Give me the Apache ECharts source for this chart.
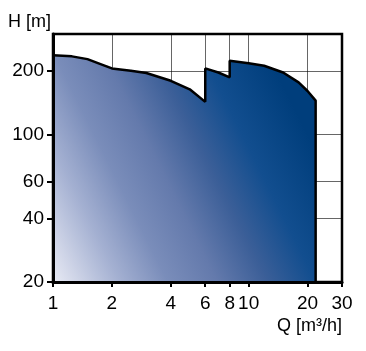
<!DOCTYPE html>
<html style="height: 100%">
<head>
  <meta charset="utf-8">
</head>
<body style="height: 100%; margin: 0">
  <div id="container" style="width: 366px; height: 351px"></div>
  <script src="https://cdn.jsdelivr.net/npm/echarts@6/dist/echarts.min.js"></script>
  <script>
    // pump curve Q [m3/h] vs H [m], log-log
    var flow = [1, 1.25, 1.5, 1.75, 2, 2.5, 3, 4, 5, 6, 6, 7, 8, 8, 10, 12, 15, 18, 20, 22, 22];
    var head = [238, 235, 228, 216, 206, 201, 196, 180, 164, 143, 206, 197, 187, 224, 218, 212, 197, 177, 161, 145, 20];
    var xTicks = [1, 2, 4, 6, 8, 10, 20, 30];
    var yTicks = [20, 40, 60, 100, 200];

    var font = '"Liberation Sans", Arial, sans-serif';
    var points = flow.map(function (q, i) { return [q, head[i]]; });

    var myChart = echarts.init(document.getElementById('container'));
    var option = {
      animation: false,
      grid: {
        left: 53, right: 24, top: 34, bottom: 69,
        show: true, borderColor: '#000', borderWidth: 2.5
      },
      xAxis: {
        type: 'log', logBase: 10, min: 1, max: 30, z: 3,
        name: 'Q [m³/h]', nameLocation: 'end', nameGap: 0, nameMoveOverlap: false,
        nameTextStyle: { fontFamily: font, fontSize: 18, color: '#000', align: 'right', verticalAlign: 'top', padding: [35, 0, 0, 0] },
        axisLine: { lineStyle: { color: '#000', width: 3 } },
        axisTick: { customValues: xTicks, length: 5, lineStyle: { color: '#000', width: 2 } },
        axisLabel: { customValues: xTicks, margin: 12, fontFamily: font, fontSize: 19, color: '#000' },
        splitLine: { show: true, lineStyle: { color: 'rgba(0,0,0,0.6)', width: 1 } },
        minorTick: { show: false }
      },
      yAxis: {
        type: 'log', logBase: 10, min: 20, max: 300, z: 3,
        name: 'H [m]', nameLocation: 'end', nameGap: 3, nameMoveOverlap: false,
        nameTextStyle: { fontFamily: font, fontSize: 18, color: '#000', align: 'right', verticalAlign: 'bottom', padding: [0, 2, 0, 0] },
        axisLine: { show: true, lineStyle: { color: '#000', width: 3 } },
        axisTick: { show: true, customValues: yTicks, length: 6, lineStyle: { color: '#000', width: 2 } },
        axisLabel: { customValues: yTicks, margin: 9, fontFamily: font, fontSize: 19, color: '#000' },
        splitLine: { show: true, lineStyle: { color: 'rgba(0,0,0,0.6)', width: 1 } }
      },
      series: [{
        type: 'line',
        data: points,
        symbol: 'none',
        smooth: false,
        lineStyle: { color: '#000', width: 2.5 },
        areaStyle: {
          origin: 'start',
          opacity: 1,
          color: new echarts.graphic.LinearGradient(0, 1, 1, 0.42, [
            { offset: 0, color: '#e8eaf4' },
            { offset: 0.2, color: '#a5b1d2' },
            { offset: 0.35, color: '#7a8dba' },
            { offset: 0.5, color: '#647aac' },
            { offset: 0.65, color: '#3c5f98' },
            { offset: 0.8, color: '#124e8f' },
            { offset: 1, color: '#003e7c' }
          ])
        }
      }]
    };
    myChart.setOption(option);
  </script>
</body>
</html>
